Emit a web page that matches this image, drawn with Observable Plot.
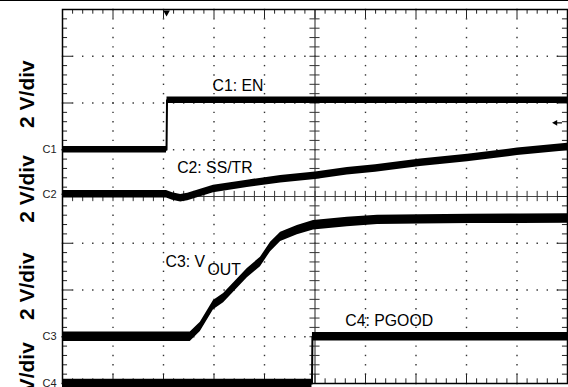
<!DOCTYPE html>
<html><head><meta charset="utf-8">
<script src="https://cdn.jsdelivr.net/npm/d3@7"></script>
<script src="https://cdn.jsdelivr.net/npm/@observablehq/plot@0.6"></script>
<style>
html,body{margin:0;padding:0;background:#fff;}
#wrap{width:568px;height:386px;border-top:1px solid #000;overflow:hidden;}
svg{display:block}
</style></head><body><div id="wrap"></div>
<script>
// Time in screen divisions (0..10), amplitude in volts; 2 V/div on every channel
const voltsPerDiv = 2;
const channelIds = ["C1", "C2", "C3", "C4"];
const channelGround = [5, 4.05, 1, 0]; // ground marker position, in divisions
const channelNoise = [0.14, 0.16, 0.2, 0.18]; // half thickness of noisy trace, volts
const scaleLabel = "2 V/div";

// C1: EN
const enTime = [0, 2.06, 2.07, 10];
const enVolts = [0, 0, 2.12, 2.12];
// C2: SS/TR
const ssTime = [0, 2.06, 2.18, 2.34, 2.48, 2.99, 3.66, 4.32, 5.01, 5.64, 6.2, 7.09, 8.02, 9.01, 10];
const ssVolts = [0, 0, -0.1, -0.17, -0.12, 0.22, 0.44, 0.64, 0.79, 0.98, 1.1, 1.34, 1.55, 1.81, 2.02];
// C3: VOUT
const voutTime = [0, 2.53, 2.73, 2.99, 3.19, 3.66, 3.92, 4.12, 4.32, 4.65, 4.97, 5.64, 6.24, 7.09, 8.08, 9.07, 10];
const voutVolts = [0, 0, 0.42, 1.35, 1.65, 2.72, 3.2, 3.84, 4.27, 4.56, 4.77, 4.91, 5.0, 5.02, 5.04, 5.05, 5.06];
// C4: PGOOD
const pgTime = [0, 4.94, 4.95, 10];
const pgVolts = [0, 0, 2.0, 2.0];

const traceNames = ["C1: EN", "C2: SS/TR", "C3: V", "C4: PGOOD"];
const triggerTime = 2.06;
const triggerLevelVolts = 1.15; // C1 trigger level arrow

const series = [
  {ch: 0, t: enTime, v: enVolts},
  {ch: 1, t: ssTime, v: ssVolts},
  {ch: 2, t: voutTime, v: voutVolts},
  {ch: 3, t: pgTime, v: pgVolts}
];
const pts = series.flatMap(s => s.t.map((t, i) => {
  const g = channelGround[s.ch], n = channelNoise[s.ch];
  return {ch: s.ch, t, y: g + s.v[i] / voltsPerDiv,
          y1: g + (s.v[i] - n) / voltsPerDiv, y2: g + (s.v[i] + n) / voltsPerDiv};
}));

// graticule
const minor = d3.range(0, 10.001, 0.2).map(d => +d.toFixed(2));
const minorY = d3.range(0, 8.001, 0.2).map(d => +d.toFixed(2));
const gridDots = [];
for (const gy of [1,2,3,5,6,7]) for (const x of minor) gridDots.push({x, y: gy});
for (const gx of [1,2,3,4,6,7,8,9]) for (const y of minorY) gridDots.push({x: gx, y});
const isMajor = d => Math.abs(d - Math.round(d)) < 1e-6;

const font = "'Liberation Sans', Arial, sans-serif";
const fs = 15.8;
const plot = Plot.plot({
  width: 568, height: 386,
  marginLeft: 62, marginRight: 1, marginTop: 8, marginBottom: 4,
  x: {domain: [0, 10], axis: null},
  y: {domain: [0, 8], axis: null},
  style: {fontFamily: font, background: "#fff", overflow: "visible"},
  marks: [
    Plot.dot(gridDots, {x: "x", y: "y", symbol: "square", r: 0.8, fill: "#333", stroke: null}),
    Plot.ruleX([5], {stroke: "#444", strokeWidth: 1.2}),
    Plot.ruleY([4], {stroke: "#444", strokeWidth: 1.2}),
    Plot.ruleX(minor, {x: d => d, y1: 3.89, y2: 4.11, stroke: "#333", strokeWidth: 1}),
    Plot.ruleY(minorY, {y: d => d, x1: 4.9, x2: 5.1, stroke: "#333", strokeWidth: 1}),
    // border ticks
    Plot.ruleX(minor, {x: d => d, y1: 8, y2: d => isMajor(d) ? 7.8 : 7.9, stroke: "#222", strokeWidth: 1}),
    Plot.ruleX(minor, {x: d => d, y1: 0, y2: d => isMajor(d) ? 0.2 : 0.1, stroke: "#222", strokeWidth: 1}),
    Plot.ruleY(minorY, {y: d => d, x1: 0, x2: d => isMajor(d) ? 0.2 : 0.1, stroke: "#222", strokeWidth: 1}),
    Plot.ruleY(minorY, {y: d => d, x1: 10, x2: d => isMajor(d) ? 9.8 : 9.9, stroke: "#222", strokeWidth: 1}),
    Plot.frame({stroke: "#000", strokeWidth: 1.5}),
    // traces: noise band + core line
    Plot.areaY(pts, {x: "t", y1: "y1", y2: "y2", z: "ch", fill: "#000", curve: "linear"}),
    Plot.line(pts, {x: "t", y: "y", z: "ch", stroke: "#000", strokeWidth: 2}),
    // channel markers
    Plot.text(channelIds, {x: 0, y: (d, i) => channelGround[i], text: d => d, textAnchor: "end", dx: -6, fontSize: 11, fill: "#222", clip: false}),
    // scale labels
    Plot.text([6.19, 4.16, 2.08, 0.16], {x: 0, y: d => d, text: () => scaleLabel, rotate: -90, dx: -29, lineAnchor: "bottom", fontSize: 21, fontWeight: "bold", fill: "#000", clip: false}),
    // trace labels
    Plot.text([traceNames[0]], {x: 2.97, y: 6.25, text: d => d, textAnchor: "start", lineAnchor: "bottom", fontSize: fs}),
    Plot.text([traceNames[1]], {x: 2.27, y: 4.5, text: d => d, textAnchor: "start", lineAnchor: "bottom", fontSize: fs}),
    Plot.text([traceNames[2]], {x: 2.04, y: 2.49, text: d => d, textAnchor: "start", lineAnchor: "bottom", fontSize: fs}),
    Plot.text(["OUT"], {x: 2.87, y: 2.49, dy: 8, text: d => d, textAnchor: "start", lineAnchor: "bottom", fontSize: fs}),
    Plot.text([traceNames[3]], {x: 5.6, y: 1.23, text: d => d, textAnchor: "start", lineAnchor: "bottom", fontSize: fs}),
    // trigger position and level markers
    Plot.dot([triggerTime], {x: d => d, y: 8, dy: 3, symbol: "triangle", rotate: 180, r: 2.5, fill: "#000"}),
    Plot.dot([triggerLevelVolts], {x: 10, y: d => channelGround[0] + d / voltsPerDiv, dx: -12, symbol: "triangle", rotate: -90, r: 2.2, fill: "#000"}),
    Plot.ruleY([triggerLevelVolts], {y: d => channelGround[0] + d / voltsPerDiv, x1: 9.78, x2: 9.9, stroke: "#000", strokeWidth: 1.2})
  ]
});
document.getElementById("wrap").appendChild(plot);
</script>
</body></html>
